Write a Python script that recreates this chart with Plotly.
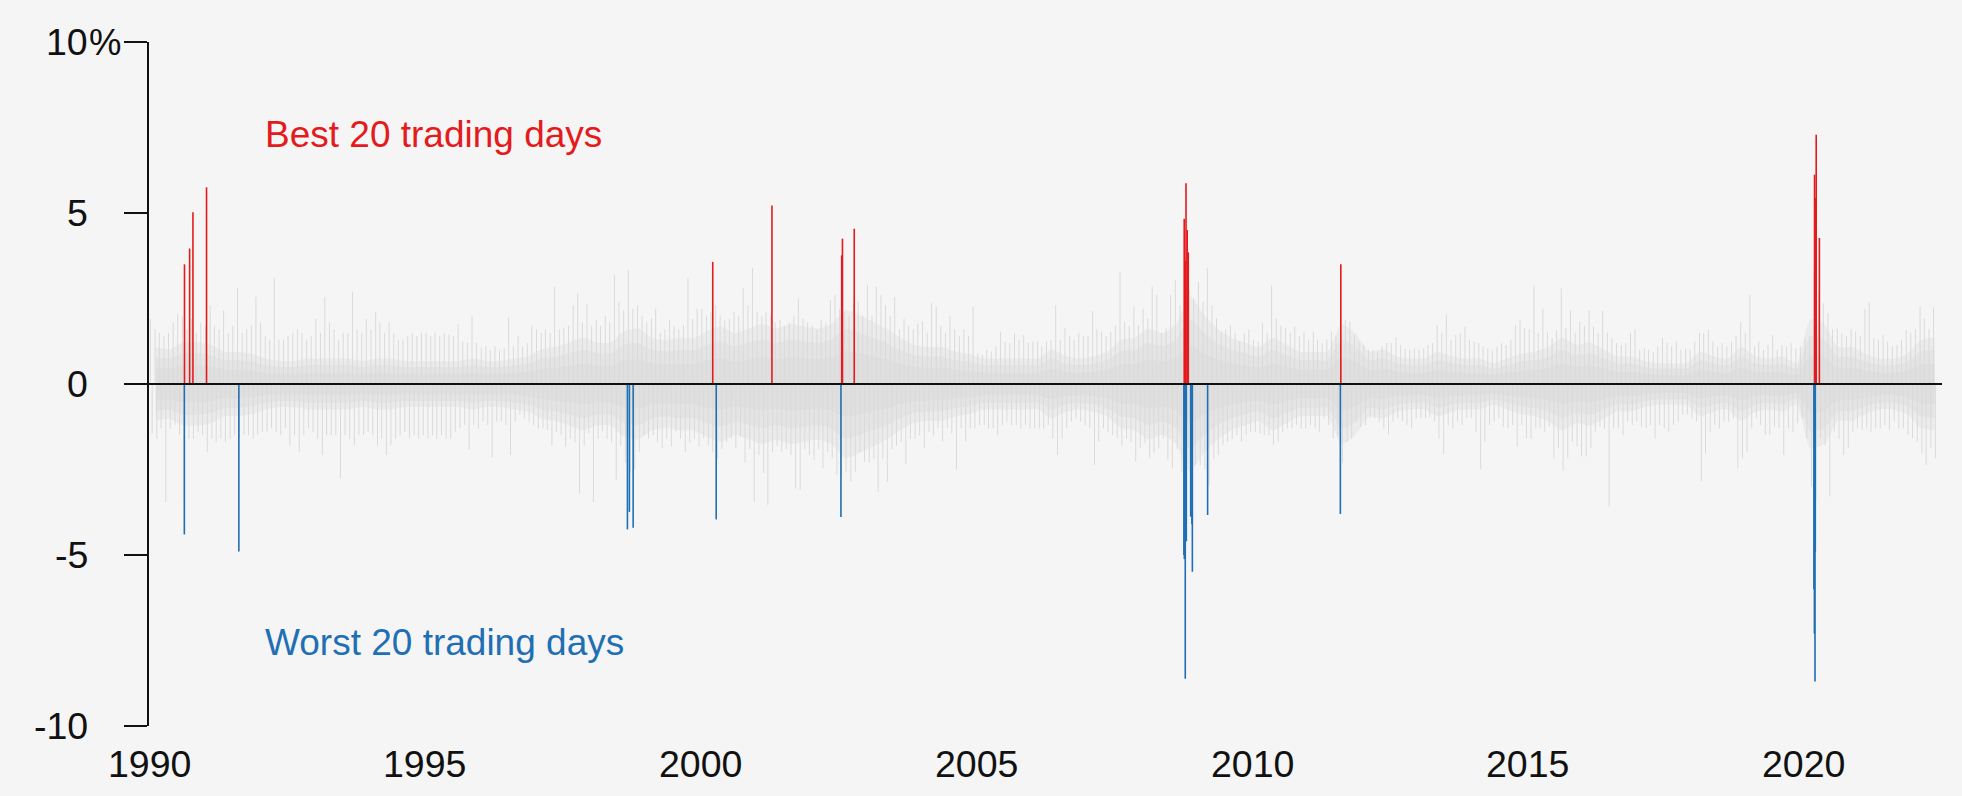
import pandas as pd
import plotly.graph_objects as go

# ---------------- data (daily % returns) ----------------
# Best 20 trading days
best_dates = ["1990-08-24", "1990-09-27", "1990-10-19", "1991-01-17", "2000-03-22",
              "2001-04-18", "2002-07-24", "2002-07-29", "2002-10-15", "2008-10-08",
              "2008-10-13", "2008-10-16", "2008-10-20", "2008-10-28", "2008-11-04",
              "2011-08-11", "2020-03-13", "2020-03-17", "2020-03-24", "2020-04-14"]
best_values = [3.50, 3.96, 5.02, 5.75, 3.57,
               5.22, 3.76, 4.25, 4.54, 4.83,
               3.49, 3.60, 5.87, 4.50, 3.85,
               3.50, 6.12, 5.44, 7.29, 4.27]

# Worst 20 trading days
worst_dates = ["1990-08-23", "1991-08-19", "1998-09-04", "1998-09-17", "1998-10-12",
               "2000-04-14", "2002-07-19", "2008-10-06", "2008-10-09", "2008-10-15",
               "2008-10-22", "2008-11-20", "2008-11-28", "2008-12-01", "2009-03-12",
               "2011-08-08", "2020-03-09", "2020-03-12", "2020-03-16", "2020-03-18"]
worst_values = [-4.40, -4.90, -4.25, -3.74, -4.20,
                -3.96, -3.89, -5.00, -5.12, -8.62,
                -4.60, -3.88, -4.10, -5.49, -3.83,
                -3.80, -6.00, -7.30, -8.70, -4.90]

# All other days: monthly largest gain / largest loss (Jan 1990 - May 2022)
gray_high = [
    1.9, 1.6, 1.5, 1.4, 1.5, 1.8, 2.05, 2.0, 1.6, 1.9, 1.5, 1.8,        # 1990
    1.7, 2.3, 1.7, 1.6, 2.15, 1.5, 1.7, 2.8, 1.5, 1.6, 1.7, 2.55,       # 1991
    1.8, 1.4, 1.3, 3.1, 1.3, 1.3, 1.4, 1.5, 1.6, 1.5, 1.3, 1.4,         # 1992
    1.9, 1.5, 2.55, 1.8, 1.6, 1.3, 1.5, 1.5, 2.7, 1.6, 1.5, 1.9,        # 1993
    1.6, 2.1, 1.8, 1.5, 1.8, 1.5, 1.3, 1.3, 1.4, 1.5, 1.4, 1.5,         # 1994
    1.5, 1.4, 1.5, 1.4, 1.5, 1.45, 1.4, 1.75, 1.25, 1.2, 2.0, 1.2,      # 1995
    1.05, 1.1, 1.0, 1.1, 1.0, 1.05, 1.95, 1.1, 1.4, 1.1, 1.2, 1.7,      # 1996
    1.6, 1.5, 1.6, 1.5, 2.85, 1.6, 1.65, 1.7, 2.3, 2.65, 1.8, 2.35,     # 1997
    1.7, 1.87, 1.7, 2.0, 1.8, 3.2, 2.4, 2.16, 3.33, 2.2, 2.3, 2.0,      # 1998
    1.8, 1.92, 2.2, 1.5, 1.6, 1.87, 1.7, 1.6, 1.72, 3.09, 1.9, 2.2,     # 1999
    2.2, 2.0, 2.1, 2.3, 2.0, 1.87, 1.9, 2.11, 2.0, 2.8, 2.3, 3.4,       # 2000
    2.11, 2.0, 2.1, 2.0, 1.8, 1.87, 1.7, 1.8, 2.0, 2.49, 1.92, 1.8,     # 2001
    1.7, 1.6, 1.87, 1.8, 2.46, 2.6, 2.2, 2.1, 2.0, 2.36, 2.41, 2.0,     # 2002
    2.9, 2.0, 2.85, 2.6, 2.3, 2.0, 2.55, 1.6, 1.9, 1.7, 1.6, 1.77,      # 2003
    1.83, 1.5, 2.36, 2.26, 1.7, 1.5, 2.0, 1.6, 1.4, 1.6, 1.4, 2.26,     # 2004
    0.9, 0.85, 1.0, 0.95, 1.1, 1.53, 1.24, 1.2, 1.48, 1.3, 1.43, 1.2,   # 2005
    1.24, 1.24, 1.1, 1.24, 1.29, 2.3, 1.3, 1.63, 1.4, 1.3, 1.5, 1.4,    # 2006
    1.4, 2.13, 1.6, 1.53, 1.4, 1.53, 1.7, 3.28, 1.82, 1.7, 2.26, 1.72,  # 2007
    2.2, 1.92, 2.85, 2.6, 1.5, 1.63, 2.6, 3.04, 2.3, 3.0, 2.75, 2.5,    # 2008
    2.99, 2.4, 3.4, 2.3, 1.92, 1.53, 1.6, 1.72, 1.5, 1.24, 1.5, 1.6,    # 2009
    1.3, 1.24, 1.8, 1.5, 2.87, 1.92, 1.7, 1.63, 1.5, 1.68, 1.4, 1.53,   # 2010
    1.3, 1.53, 1.3, 1.2, 1.3, 1.53, 1.4, 1.9, 1.87, 1.82, 1.43, 1.24,   # 2011
    1.14, 1.0, 0.99, 0.94, 1.1, 1.2, 1.2, 1.36, 1.14, 1.04, 1.0, 1.04,  # 2012
    1.0, 1.04, 1.14, 1.2, 1.72, 1.5, 2.02, 1.3, 1.43, 1.48, 1.68, 1.3,  # 2013
    1.24, 1.2, 1.1, 1.04, 1.0, 1.1, 1.19, 1.14, 1.3, 1.72, 1.87, 1.63,  # 2014
    1.6, 2.9, 1.5, 2.2, 1.53, 1.34, 1.58, 2.8, 1.63, 2.16, 1.5, 1.82,   # 2015
    1.7, 2.16, 1.68, 1.5, 2.13, 1.5, 1.34, 1.2, 1.14, 1.2, 1.5, 1.6,    # 2016
    1.0, 1.04, 1.0, 0.94, 1.1, 1.35, 1.2, 1.1, 1.24, 1.0, 1.04, 1.0,    # 2017
    1.24, 1.5, 1.48, 1.58, 1.24, 1.1, 1.19, 1.1, 1.24, 1.4, 1.82, 1.5,  # 2018
    2.6, 1.1, 1.24, 1.0, 1.14, 1.43, 1.0, 1.14, 1.1, 1.19, 1.04, 1.1,   # 2019
    1.34, 1.4, 3.3, 2.64, 2.36, 2.07, 1.6, 1.63, 1.5, 1.4, 1.6, 1.53,   # 2020
    1.4, 2.2, 2.4, 1.34, 1.3, 1.43, 1.24, 1.1, 1.14, 1.3, 1.58, 1.5,    # 2021
    1.6, 2.26, 1.92, 1.6, 2.24,                                         # 2022
]
gray_low = [
    -1.45, -1.6, -1.3, -3.45, -1.3, -1.2, -1.5, -3.4, -1.6, -1.6, -1.4, -1.5,      # 1990
    -2.0, -1.6, -1.7, -1.6, -1.7, -1.6, -1.5, -1.6, -1.5, -1.5, -1.6, -1.5,        # 1991
    -1.4, -1.4, -1.3, -1.4, -1.5, -1.3, -1.8, -1.5, -2.0, -1.5, -1.3, -1.4,        # 1992
    -1.6, -2.08, -1.5, -1.5, -1.5, -2.76, -1.5, -1.6, -1.78, -1.5, -1.5, -1.4,     # 1993
    -1.5, -1.8, -1.6, -2.08, -1.78, -1.6, -1.5, -1.4, -1.59, -1.5, -1.6, -1.5,     # 1994
    -1.6, -1.5, -1.6, -1.5, -1.6, -1.6, -1.39, -1.3, -1.2, -1.93, -1.2, -1.3,      # 1995
    -1.1, -1.2, -2.15, -1.1, -1.1, -1.2, -2.08, -1.1, -0.9, -1.0, -1.1, -1.2,      # 1996
    -1.3, -1.3, -1.35, -1.8, -1.4, -1.5, -1.83, -1.6, -1.7, -3.2, -1.8, -1.44,     # 1997
    -3.45, -1.6, -1.39, -1.6, -1.7, -2.8, -1.8, -2.3, -2.6, -2.5, -1.98, -1.49,    # 1998
    -1.6, -1.5, -1.7, -1.88, -1.6, -1.83, -1.39, -1.6, -1.98, -1.7, -1.6, -1.83,   # 1999
    -1.59, -1.8, -2.0, -2.2, -1.9, -1.7, -1.6, -1.88, -1.54, -2.3, -1.9, -3.44,    # 2000
    -2.08, -2.6, -3.54, -2.0, -1.8, -1.98, -1.9, -2.08, -3.05, -3.1, -1.9, -2.08,  # 2001
    -2.22, -1.9, -2.47, -2.0, -2.17, -2.66, -2.66, -2.56, -2.86, -2.56, -2.0, -2.27,  # 2002
    -2.3, -2.2, -3.15, -2.2, -2.86, -1.9, -1.8, -1.7, -2.35, -1.6, -1.6, -1.5,     # 2003
    -1.88, -1.4, -1.5, -1.3, -1.68, -1.3, -1.44, -2.51, -1.3, -1.68, -1.3, -1.3,   # 2004
    -1.2, -1.2, -1.3, -1.3, -1.5, -1.2, -1.1, -1.2, -1.2, -1.3, -1.2, -1.3,        # 2005
    -1.3, -1.3, -1.3, -1.2, -1.6, -2.08, -1.59, -1.3, -1.1, -1.0, -1.1, -1.2,      # 2006
    -1.3, -2.37, -1.69, -1.3, -1.4, -1.5, -1.59, -1.8, -1.6, -1.7, -2.27, -1.88,   # 2007
    -1.73, -2.17, -2.0, -1.88, -1.6, -2.22, -2.47, -1.9, -2.56, -3.0, -2.8, -2.37, # 2008
    -2.37, -2.5, -2.95, -2.2, -2.08, -1.78, -1.69, -1.6, -1.5, -1.69, -1.5, -1.4,  # 2009
    -1.4, -1.44, -1.49, -1.5, -1.78, -1.69, -1.4, -1.3, -1.3, -1.2, -1.3, -1.3,    # 2010
    -1.2, -1.3, -1.4, -1.0, -1.2, -1.59, -1.5, -2.32, -1.69, -1.6, -1.1, -1.25,    # 2011
    -1.2, -1.0, -1.0, -1.1, -1.3, -1.47, -1.1, -1.0, -1.1, -1.2, -1.3, -1.0,       # 2012
    -1.0, -1.0, -0.96, -1.1, -1.59, -2.05, -1.2, -1.3, -1.1, -1.2, -1.0, -1.0,     # 2013
    -1.4, -2.49, -1.69, -1.2, -1.1, -1.0, -1.25, -1.3, -1.2, -1.83, -1.2, -1.59,   # 2014
    -1.6, -1.3, -1.3, -1.4, -1.25, -2.19, -1.88, -2.54, -2.17, -1.69, -1.83, -2.12,  # 2015
    -2.12, -1.88, -1.4, -1.25, -1.3, -3.59, -1.3, -1.3, -1.5, -1.1, -1.2, -1.1,    # 2016
    -1.25, -1.28, -1.2, -1.59, -1.2, -1.3, -1.39, -1.2, -1.1, -0.9, -0.9, -1.0,    # 2017
    -1.1, -2.84, -2.03, -1.4, -1.2, -1.3, -1.1, -1.1, -1.0, -2.47, -2.17, -2.0,    # 2018
    -1.3, -1.0, -1.2, -1.49, -1.5, -1.25, -1.3, -2.08, -1.3, -1.4, -1.15, -1.0,    # 2019
    -1.6, -3.0, -3.4, -1.59, -1.79, -3.29, -1.4, -1.6, -2.08, -1.88, -1.4, -1.3,   # 2020
    -1.34, -1.3, -1.4, -1.3, -1.3, -1.2, -1.34, -1.1, -1.3, -1.3, -1.5, -1.59,     # 2021
    -1.7, -2.03, -2.37, -1.88, -2.17,                                              # 2022
]
# Typical daily move (dense band) per quarter, Q1 1990 - Q2 2022
gray_core = [
    0.8, 0.75, 0.9, 0.9,  0.85, 0.7, 0.7, 0.65,  0.55, 0.5, 0.5, 0.55,  0.55, 0.55, 0.55, 0.5,   # 1990-93
    0.55, 0.55, 0.5, 0.5,  0.5, 0.5, 0.5, 0.55,  0.5, 0.5, 0.55, 0.6,  0.75, 0.8, 0.9, 1.0,      # 1994-97
    0.9, 0.9, 1.15, 1.2,  1.0, 0.95, 1.0, 1.0,  1.15, 1.25, 1.1, 1.2,  1.3, 1.2, 1.3, 1.25,      # 1998-01
    1.2, 1.3, 1.6, 1.5,  1.35, 1.2, 1.0, 0.85,  0.8, 0.8, 0.7, 0.65,  0.55, 0.55, 0.55, 0.55,    # 2002-05
    0.55, 0.75, 0.6, 0.55,  0.6, 0.7, 0.95, 1.0,  1.2, 1.1, 1.3, 1.9,  1.5, 1.2, 1.0, 0.9,       # 2006-09
    0.8, 1.0, 0.85, 0.7,  0.7, 0.7, 1.3, 1.1,  0.7, 0.75, 0.6, 0.55,  0.55, 0.7, 0.6, 0.55,      # 2010-13
    0.55, 0.45, 0.55, 0.65,  0.7, 0.8, 1.0, 0.85,  0.9, 0.75, 0.6, 0.6,  0.5, 0.45, 0.45, 0.45,  # 2014-17
    0.7, 0.6, 0.55, 0.8,  0.6, 0.55, 0.6, 0.45,  1.4, 1.3, 0.8, 0.8,  0.65, 0.55, 0.55, 0.65,    # 2018-21
    0.95, 1.0,                                                                                   # 2022
]

x_tick_years = [1990, 1995, 2000, 2005, 2010, 2015, 2020]
y_tick_values = [10, 5, 0, -5, -10]
y_tick_labels = ["10", "5", "0", "-5", "-10"]
top_suffix = "%"

X_START, X_END = "1990-01-01", "2022-07-05"

# ---------------- styling ----------------
BG = "#f5f5f5"
GRAY_LINE = "#dadada"
CORE_LAYERS = [(1.35, "#ebebeb"), (1.0, "#e4e4e4"), (0.6, "#dfdfdf")]
RED = "#e41a1c"
BLUE = "#1f6fb4"
INK = "#111111"
FONT = "Liberation Sans, Arial, Helvetica, sans-serif"
FS_TICK = 37.5
FS_LABEL = 37

# the page body has an 8px margin: the figure is sized to fit inside it
OFF = 8
W, H = 1962 - OFF, 796 - OFF
PLOT_L, PLOT_R, PLOT_T, PLOT_B = 149 - OFF, 1942 - OFF, 42 - OFF, 726 - OFF
ML, MR, MT, MB = PLOT_L, W - PLOT_R, PLOT_T, H - PLOT_B

fig = go.Figure()

# dense band of typical daily moves (soft-edged)
q_mid = pd.date_range(X_START, periods=len(gray_core), freq="QS") + pd.Timedelta(days=45)
q_x = [d.strftime("%Y-%m-%d") for d in q_mid]
for scale, col in CORE_LAYERS:
    for sign in (1, -1):
        fig.add_trace(go.Scatter(
            x=q_x, y=[sign * scale * c for c in gray_core], mode="lines",
            line=dict(width=0, shape="spline", smoothing=0.6, color=col),
            fill="tozeroy", fillcolor=col, hoverinfo="skip", showlegend=False))

# monthly largest moves as thin spikes
months = pd.date_range(X_START, periods=len(gray_high), freq="MS")
gx, gy = [], []
for d, h, l in zip(months, gray_high, gray_low):
    dp = (d + pd.Timedelta(days=9)).strftime("%Y-%m-%d")
    dn = (d + pd.Timedelta(days=21)).strftime("%Y-%m-%d")
    gx += [dp, dp, None, dn, dn, None]
    gy += [0, h, None, 0, l, None]
fig.add_trace(go.Scatter(x=gx, y=gy, mode="lines", line=dict(color=GRAY_LINE, width=1),
                         hoverinfo="skip", showlegend=False, connectgaps=False))


def spikes(dates, values, color):
    xs, ys = [], []
    for d, v in zip(dates, values):
        xs += [d, d, None]
        ys += [0, v, None]
    return go.Scatter(x=xs, y=ys, mode="lines", line=dict(color=color, width=1.6),
                      hoverinfo="skip", showlegend=False, connectgaps=False)


fig.add_trace(spikes(best_dates, best_values, RED))
fig.add_trace(spikes(worst_dates, worst_values, BLUE))

# zero line on top
fig.add_shape(type="line", xref="x", yref="y", x0=X_START, x1=X_END, y0=0, y1=0,
              line=dict(color=INK, width=2.2), layer="above")

ann = []
# y tick labels (numbers right-aligned, % hanging on top label)
for v, t in zip(y_tick_values, y_tick_labels):
    ann.append(dict(x=0, xref="paper", xanchor="right", xshift=-59, y=v, yref="y",
                    yanchor="middle", text=t, showarrow=False,
                    font=dict(family=FONT, size=FS_TICK, color=INK)))
ann.append(dict(x=0, xref="paper", xanchor="left", xshift=-62, y=y_tick_values[0], yref="y",
                yanchor="middle", text=top_suffix, showarrow=False,
                font=dict(family=FONT, size=FS_TICK - 1, color=INK)))
# x tick labels
for yr in x_tick_years:
    ann.append(dict(x=f"{yr}-01-01", xref="x", xanchor="center", y=0, yref="paper",
                    yanchor="middle", yshift=-38, text=str(yr), showarrow=False,
                    font=dict(family=FONT, size=FS_TICK, color=INK)))
# series labels
pw = PLOT_R - PLOT_L
ph = PLOT_B - PLOT_T
lab_x = (263 - OFF - PLOT_L) / pw
ann.append(dict(x=lab_x, xref="paper", xanchor="left",
                y=(PLOT_B - (135 - OFF)) / ph, yref="paper", yanchor="middle",
                text="Best 20 trading days", showarrow=False,
                font=dict(family=FONT, size=FS_LABEL, color=RED)))
ann.append(dict(x=lab_x, xref="paper", xanchor="left",
                y=(PLOT_B - (642 - OFF)) / ph, yref="paper", yanchor="middle",
                text="Worst 20 trading days", showarrow=False,
                font=dict(family=FONT, size=FS_LABEL, color=BLUE)))

fig.update_layout(
    width=W, height=H, autosize=False,
    margin=dict(l=ML, r=MR, t=MT, b=MB, pad=0),
    paper_bgcolor=BG, plot_bgcolor=BG,
    showlegend=False, annotations=ann,
    xaxis=dict(type="date", range=[X_START, X_END], showgrid=False, zeroline=False,
               showline=False, showticklabels=False, ticks=""),
    yaxis=dict(range=[-10, 10], showgrid=False, zeroline=False, showline=True,
               linecolor=INK, linewidth=2, ticks="outside", ticklen=23,
               tickwidth=2, tickcolor=INK, tickvals=y_tick_values,
               showticklabels=False),
)

# paint the page around the figure in the same background colour
page_bg = ("document.documentElement.style.backgroundColor='%s';"
           "document.body.style.backgroundColor='%s';" % (BG, BG))
fig.write_html("out.html", post_script=page_bg)
